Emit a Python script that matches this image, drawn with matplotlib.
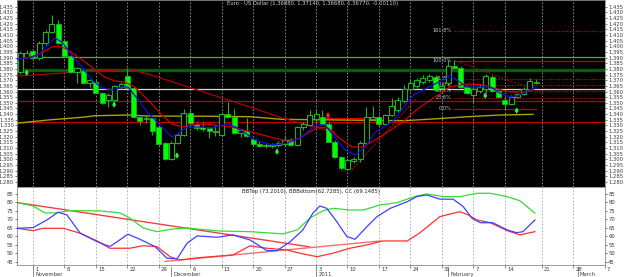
import numpy as np
import matplotlib
matplotlib.use('Agg')
import matplotlib.pyplot as plt
import matplotlib.transforms as mtransforms

# bar index 0 = Mon 1 Nov 2010, one bar per trading day (EURUSD daily)
bar_open = [1.3773, 1.3906, 1.3959, 1.3897, 1.4029, 1.4127, 1.4198, 1.4047, 1.3914, 1.3773,
            1.3782, 1.3675, 1.3684, 1.3591, 1.3525, 1.3525, 1.3640, 1.3737, 1.3631, 1.3375,
            1.3366, 1.3366, 1.3286, 1.3144, 1.3003, 1.3144, 1.3215, 1.3410, 1.3313, 1.3286,
            1.3277, 1.3251, 1.3215, 1.3401, 1.3375, 1.3233, 1.3251, 1.3180, 1.3136, 1.3127,
            1.3118, 1.3127, 1.3136, 1.3171, 1.3127, 1.3286, 1.3304, 1.3357, 1.3375, 1.3313,
            1.3156, 1.3018, 1.2914, 1.2981, 1.3003, 1.3147, 1.3354, 1.3372, 1.3313, 1.3392,
            1.3437, 1.3516, 1.3622, 1.3649, 1.3684, 1.3702, 1.3729, 1.3631, 1.3675, 1.3826,
            1.3808, 1.3637, 1.3569, 1.3605, 1.3620, 1.3731, 1.3607, 1.3525, 1.3490, 1.3554,
            1.3578, 1.3620, 1.3688]
bar_high = [1.3959, 1.3968, 1.3976, 1.4047, 1.4145, 1.4277, 1.4233, 1.4056, 1.3923, 1.3817,
            1.3799, 1.3711, 1.3702, 1.3596, 1.3587, 1.3658, 1.3684, 1.3808, 1.3640, 1.3383,
            1.3392, 1.3375, 1.3304, 1.3153, 1.3162, 1.3233, 1.3445, 1.3445, 1.3330, 1.3330,
            1.3286, 1.3304, 1.3419, 1.3507, 1.3445, 1.3268, 1.3366, 1.3189, 1.3162, 1.3144,
            1.3144, 1.3162, 1.3215, 1.3189, 1.3295, 1.3330, 1.3437, 1.3437, 1.3437, 1.3330,
            1.3171, 1.3029, 1.3012, 1.3021, 1.3162, 1.3463, 1.3472, 1.3392, 1.3401, 1.3543,
            1.3552, 1.3658, 1.3702, 1.3720, 1.3746, 1.3755, 1.3746, 1.3675, 1.3875, 1.3875,
            1.3826, 1.3658, 1.3649, 1.3667, 1.3755, 1.3746, 1.3622, 1.3552, 1.3569, 1.3587,
            1.3640, 1.3720, 1.3714]
bar_low = [1.3755, 1.3897, 1.3879, 1.3879, 1.4012, 1.4118, 1.4021, 1.3906, 1.3764, 1.3675,
           1.3667, 1.3640, 1.3587, 1.3490, 1.3463, 1.3516, 1.3622, 1.3622, 1.3366, 1.3304,
           1.3321, 1.3215, 1.3127, 1.2994, 1.2994, 1.3136, 1.3206, 1.3304, 1.3260, 1.3251,
           1.3189, 1.3206, 1.3206, 1.3366, 1.3224, 1.3198, 1.3198, 1.3118, 1.3109, 1.3100,
           1.3100, 1.3109, 1.3118, 1.3118, 1.3118, 1.3260, 1.3295, 1.3313, 1.3304, 1.3153,
           1.3012, 1.2906, 1.2906, 1.2967, 1.2976, 1.3136, 1.3348, 1.3295, 1.3304, 1.3383,
           1.3419, 1.3498, 1.3605, 1.3631, 1.3667, 1.3684, 1.3605, 1.3596, 1.3649, 1.3799,
           1.3631, 1.3578, 1.3507, 1.3587, 1.3587, 1.3596, 1.3543, 1.3437, 1.3481, 1.3543,
           1.3569, 1.3605, 1.3668]
bar_close = [1.3937, 1.3945, 1.3897, 1.4029, 1.4127, 1.4198, 1.4029, 1.3914, 1.3773, 1.3804,
             1.3675, 1.3702, 1.3591, 1.3498, 1.3569, 1.3649, 1.3671, 1.3631, 1.3375, 1.3339,
             1.3357, 1.3251, 1.3136, 1.3003, 1.3144, 1.3215, 1.3410, 1.3321, 1.3277, 1.3268,
             1.3251, 1.3242, 1.3401, 1.3375, 1.3233, 1.3260, 1.3206, 1.3136, 1.3118, 1.3114,
             1.3127, 1.3144, 1.3171, 1.3127, 1.3286, 1.3313, 1.3392, 1.3401, 1.3313, 1.3156,
             1.3018, 1.2921, 1.2994, 1.3003, 1.3147, 1.3375, 1.3372, 1.3313, 1.3392, 1.3472,
             1.3525, 1.3622, 1.3675, 1.3702, 1.3720, 1.3737, 1.3614, 1.3649, 1.3826, 1.3808,
             1.3637, 1.3584, 1.3620, 1.3636, 1.3737, 1.3607, 1.3554, 1.3490, 1.3554, 1.3578,
             1.3620, 1.3691, 1.3677]
first_bar = -2

# moving averages (bar index, price)
blue_x = [-2.6, 0, 1.1, 2.3, 3.5, 4.6, 6.4, 7.8, 9.4, 11, 12.6, 14.1, 15.1, 16.5, 18.3, 20.5,
          22.1, 23.1, 24.6, 26.9, 28.1, 31, 32.6, 35.3, 38, 40.5, 42.8, 44.8, 46.4, 48, 49.6,
          51.2, 52.8, 54.4, 57.1, 59.1, 60.5, 62.6, 65.2, 66.3, 67.4, 69, 71.1, 72.7, 74.2,
          75.8, 77.4, 79, 80]
blue_y = [1.3890, 1.3905, 1.3935, 1.4010, 1.4074, 1.4038, 1.3906, 1.3817, 1.3702, 1.3631,
          1.3614, 1.3640, 1.3640, 1.3543, 1.3410, 1.3286, 1.3198, 1.3233, 1.3286, 1.3286,
          1.3277, 1.3313, 1.3277, 1.3171, 1.3127, 1.3144, 1.3198, 1.3304, 1.3304, 1.3198,
          1.3083, 1.3038, 1.3109, 1.3242, 1.3330, 1.3472, 1.3569, 1.3631, 1.3702, 1.3737,
          1.3702, 1.3640, 1.3640, 1.3640, 1.3587, 1.3552, 1.3569, 1.3614, 1.3640]
red_x = [-2.6, -1, 1.1, 3, 4, 5.4, 6.7, 8.3, 9.9, 11.4, 13, 14.6, 16.2, 18.3, 20.5, 22.1,
         23.7, 25.3, 27.3, 31.6, 35.3, 39.6, 41.7, 43.2, 45.3, 46.9, 48.5, 50.7, 52.3, 54.4,
         56.4, 59, 61, 63.6, 66.3, 69, 71.5, 73.8, 75.8, 77.9, 79.5]
red_y = [1.3885, 1.3897, 1.3932, 1.3994, 1.4003, 1.3976, 1.3923, 1.3861, 1.3790, 1.3729,
         1.3693, 1.3684, 1.3640, 1.3525, 1.3392, 1.3313, 1.3286, 1.3304, 1.3313, 1.3286,
         1.3233, 1.3171, 1.3171, 1.3215, 1.3286, 1.3277, 1.3198, 1.3109, 1.3109, 1.3171,
         1.3242, 1.3340, 1.3440, 1.3540, 1.3640, 1.3667, 1.3658, 1.3622, 1.3596, 1.3596,
         1.3614]
slow_x = [-2.6, 2.4, 7.8, 13.5, 15.1, 18.3, 23.7, 28.1, 34.5, 39.6, 44, 48]
slow_y = [1.3737, 1.3755, 1.3775, 1.3790, 1.3799, 1.3755, 1.3658, 1.3578, 1.3463, 1.3366,
          1.3295, 1.3242]
olive_x = [-2.6, 2.4, 7.8, 9.9, 15.1, 18.3, 28.1, 34.5, 39.6, 48.5, 59.1, 63.6, 69, 74.2, 79.5]
olive_y = [1.3319, 1.3348, 1.3372, 1.3386, 1.3392, 1.3383, 1.3381, 1.3377, 1.3354, 1.3348,
           1.3342, 1.3357, 1.3377, 1.3392, 1.3398]

# drawn objects
hlines_full = [(1.3903, '#2fbf2f', 0.9), (1.3790, '#0a5c0a', 2.4), (1.3620, '#d8d8d8', 0.9),
               (1.3516, '#c00000', 0.9), (1.3333, '#c00000', 0.9)]
sell_level = (1.3363, 45, 55)
uptrend = ([50.7, 61.0], [1.2906, 1.3543])
fib_trend = ([67, 81], [1.3875, 1.3590])
fib_names = ['161.8%', '100.0%', '61.8%', '50.0%', '38.2%', '23.6%', '0.0%']
fib_prices = [1.4133, 1.3872, 1.3708, 1.3658, 1.3607, 1.3545, 1.3443]
fib_start = 67

up_arrow_x = [-1, 12.9, 22.9, 38.8, 71.9, 76.9]
up_arrow_y = [1.3799, 1.3516, 1.3065, 1.3100, 1.3596, 1.3463]
down_arrow_x = [46.9]
down_arrow_y = [1.3357]

# lower indicator panel
grn_x = [-2.5, 0, 1.9, 3.5, 5.9, 10.7, 13.8, 15.4, 17.5, 19.7, 22.3, 24.5, 26.6, 29.7, 34.5,
         39.7, 42, 44, 46.1, 47.7, 50.4, 52.5, 55.2, 57.9, 61, 62.6, 65.2, 67.9, 70.6, 72.7,
         75.4, 77.4, 79.8]
grn_y = [79.9, 77.9, 73.8, 73.8, 75.1, 75.0, 73.8, 70.8, 64.9, 62.7, 64.3, 64.9, 64.1, 63.1,
         62.7, 61.4, 63.7, 70.6, 75.1, 76.5, 75.5, 75.5, 78.5, 79.9, 83.8, 85.0, 83.4, 83.4,
         85.4, 85.4, 83.4, 81.0, 73.6]
blu_x = [-2.5, 0, 2.2, 4, 5.4, 7.5, 10.2, 12.2, 13.4, 15.1, 17, 19.4, 21.3, 22.9, 24.5, 26.1,
         29.3, 31.8, 34.5, 37.2, 38.8, 40.9, 42.9, 44.5, 45.6, 46.7, 48.3, 49.9, 51.2, 53.1,
         54.7, 56.8, 59.5, 61, 62.6, 64.7, 66.8, 68.4, 69.8, 71.1, 73.1, 75.4, 76.9, 77.9,
         79.8]
blu_y = [64.7, 65.1, 69.6, 74.2, 72.6, 61.8, 56.8, 53.9, 56.8, 61.2, 58.2, 53.9, 47.0, 46.6,
         55.9, 60.2, 59.4, 60.8, 57.8, 51.5, 51.5, 56.8, 63.7, 73.6, 77.9, 76.5, 68.6, 59.8,
         58.2, 65.7, 71.6, 76.5, 80.4, 83.4, 84.4, 81.9, 81.9, 77.5, 70.6, 68.0, 68.0, 63.7,
         62.1, 62.7, 69.6]
rd_x = [-2.5, 0, 1.6, 4.8, 7.5, 10.2, 12.2, 15.4, 17.5, 19.7, 21.8, 23.4, 26.6, 31.8, 34.5,
        37.2, 40.4, 42.4, 45.2, 47.7, 50.4, 53.1, 55.6, 59.5, 61.5, 64.7, 66.8, 67.9, 69.2,
        70.6, 72.7, 75.4, 77.4, 79.8]
rd_y = [64.7, 63.3, 64.7, 64.7, 61.8, 57.2, 52.9, 52.9, 54.4, 53.9, 47.9, 46.0, 47.4, 48.9,
        54.3, 52.9, 51.9, 50.0, 47.9, 50.0, 52.9, 54.9, 57.2, 57.2, 62.0, 71.6, 73.6, 74.5,
        72.6, 69.6, 68.0, 63.3, 60.8, 62.7]
trend_down = ([-2.5, 44], [79.9, 53.7])
trend_up = ([21, 55.2], [45.1, 57.2])

grid_x = [0, 5, 10, 15, 20, 25, 30, 35, 40, 45, 50, 55, 60, 65, 70, 75, 80.9, 85.9, 90.9]
day_labels = ['1', '8', '15', '22', '29', '6', '13', '20', '27', '3', '10', '17', '24', '31',
              '7', '14', '21', '28', '7']
month_x = [0, 22, 45, 66, 86.6]
month_names = ['November', 'December', '2011', 'February', 'March']

title_top = 'Euro - US Dollar (1.36880, 1.37140, 1.36680, 1.36770, -0.00110)'
title_low = 'BBTop (73.2010), BBBottom(62.7285), CC (69.1485)'

W, H = 625, 277
fig = plt.figure(figsize=(6.25, 2.77), dpi=100)
fig.patch.set_facecolor('white')
ax = fig.add_axes([17 / W, 90 / H, 588 / W, 187 / H])
ax2 = fig.add_axes([17 / W, 12 / H, 588 / W, 78 / H])

xmin, xmax = -2.54, 90.94
tick_col = '#3a3a3a'

# ---- price panel
ax.set_facecolor('black')
ax.set_xlim(xmin, xmax)
ax.set_ylim(1.2755, 1.441)
for gx in grid_x[:-1]:
    ax.axvline(gx, color='#9a9a9a', lw=0.6, ls=(0, (2, 2)), zorder=1)

for p, c, lw in hlines_full:
    ax.axhline(p, color=c, lw=lw, zorder=2)
ax.plot([sell_level[1], sell_level[2]], [sell_level[0]] * 2, color='#d00000', lw=0.9, zorder=2)

ax.plot(olive_x, olive_y, color='#a8a400', lw=1.0, zorder=3)
ax.plot(slow_x, slow_y, color='#b00000', lw=0.9, zorder=3)
ax.plot(uptrend[0], uptrend[1], color='#b00000', lw=0.8, ls=(0, (2, 1)), zorder=3)

# fibonacci
for name, p in zip(fib_names, fib_prices):
    if name in ('100.0%', '0.0%'):
        end = xmax if name == '100.0%' else 80
        ax.plot([fib_start, end], [p, p], color='#c00000', lw=0.9, zorder=2)
    else:
        ax.plot([fib_start, xmax], [p, p], color='#c00000', lw=0.9, ls=(0, (1, 1.2)), zorder=2)
    ax.text(fib_start - 0.5, p + 0.0005, name, color='#c8c8c8', fontsize=3.6,
            ha='right', va='center', zorder=5)
ax.plot(fib_trend[0], fib_trend[1], color='#b00000', lw=0.8, ls=(0, (1.5, 1.5)), zorder=3)

# candles
x = np.arange(first_bar, first_bar + len(bar_open))
o = np.array(bar_open); h = np.array(bar_high); l = np.array(bar_low); c = np.array(bar_close)
ax.vlines(x, l, h, color='#22b022', lw=0.8, zorder=4)
up = c >= o
body = np.maximum(np.abs(c - o), 0.0003)
ax.bar(x[up], body[up], bottom=np.minimum(o, c)[up], width=0.8, color='black',
       edgecolor='#22b022', linewidth=0.8, zorder=5)
ax.bar(x[~up], body[~up], bottom=np.minimum(o, c)[~up], width=0.8, color='#00ff00',
       edgecolor='#22b022', linewidth=0.6, zorder=5)

ax.plot(red_x, red_y, color='#d00000', lw=0.9, zorder=6)
ax.plot(blue_x, blue_y, color='#1010e0', lw=0.9, zorder=6)

for ux, uy in zip(up_arrow_x, up_arrow_y):
    ax.annotate('', xy=(ux, uy), xytext=(ux, uy - 0.0050),
                arrowprops=dict(arrowstyle='-|>', color='#33ee33', lw=1.2,
                                mutation_scale=4, shrinkA=0, shrinkB=0), zorder=7)
for dx, dy in zip(down_arrow_x, down_arrow_y):
    ax.annotate('', xy=(dx, dy), xytext=(dx, dy + 0.0050),
                arrowprops=dict(arrowstyle='-|>', color='#ff2020', lw=1.2,
                                mutation_scale=4, shrinkA=0, shrinkB=0), zorder=7)

ax.text(0.502, 0.992, title_top, transform=ax.transAxes, color='#d0d0d0', fontsize=3.8,
        ha='center', va='top')

yt = np.round(np.arange(1.280, 1.4351, 0.005), 3)
ax.set_yticks(yt)
ax.set_yticklabels([f'{v:.3f}' for v in yt])
ax.set_xticks([])
ax.tick_params(axis='y', labelsize=3.8, length=1.5, pad=0.8, left=True, right=True,
               labelleft=True, labelright=True, colors=tick_col, width=0.5)
for s in ax.spines.values():
    s.set_color('#8a8a8a'); s.set_linewidth(0.6)

# ---- indicator panel
ax2.set_facecolor('white')
ax2.set_xlim(xmin, xmax)
ax2.set_ylim(43.0, 89.1)
for gx in grid_x[:-1]:
    ax2.axvline(gx, color='#a8a8a8', lw=0.6, ls=(0, (2, 2)), zorder=1)
ax2.plot(trend_down[0], trend_down[1], color='#f04040', lw=1.0, zorder=3)
ax2.plot(trend_up[0], trend_up[1], color='#f07070', lw=1.0, zorder=3)
ax2.plot(grn_x, grn_y, color='#33dd33', lw=0.9, zorder=4)
ax2.plot(rd_x, rd_y, color='#ff3030', lw=0.9, zorder=4)
ax2.plot(blu_x, blu_y, color='#4040ff', lw=0.9, zorder=5)
ax2.text(0.5, 0.975, title_low, transform=ax2.transAxes, color='#202020', fontsize=3.8,
         ha='center', va='top')

ax2.set_yticks(range(45, 90, 5))
ax2.tick_params(axis='y', labelsize=3.8, length=1.5, pad=0.8, left=True, right=True,
                labelleft=True, labelright=True, colors=tick_col, width=0.5)
ax2.set_xticks(grid_x)
ax2.set_xticklabels([])
ax2.tick_params(axis='x', length=2, width=0.5, colors='#606060')
for s in ax2.spines.values():
    s.set_color('#8a8a8a'); s.set_linewidth(0.6)

trans = mtransforms.blended_transform_factory(ax2.transData, ax2.transAxes)
for gx, lab in zip(grid_x, day_labels):
    ax2.text(gx + 0.35, -0.02, lab, transform=trans, fontsize=3.8, color=tick_col,
             ha='left', va='top', clip_on=False)
for mx, name in zip(month_x, month_names):
    ax2.plot([mx, mx], [-0.02, -0.16], transform=trans, color='#606060', lw=0.5, clip_on=False)
    ax2.text(mx + 0.35, -0.09, name, transform=trans, fontsize=3.8, color=tick_col,
             ha='left', va='top', clip_on=False)

fig.savefig('out.png', dpi=100, facecolor='white')
